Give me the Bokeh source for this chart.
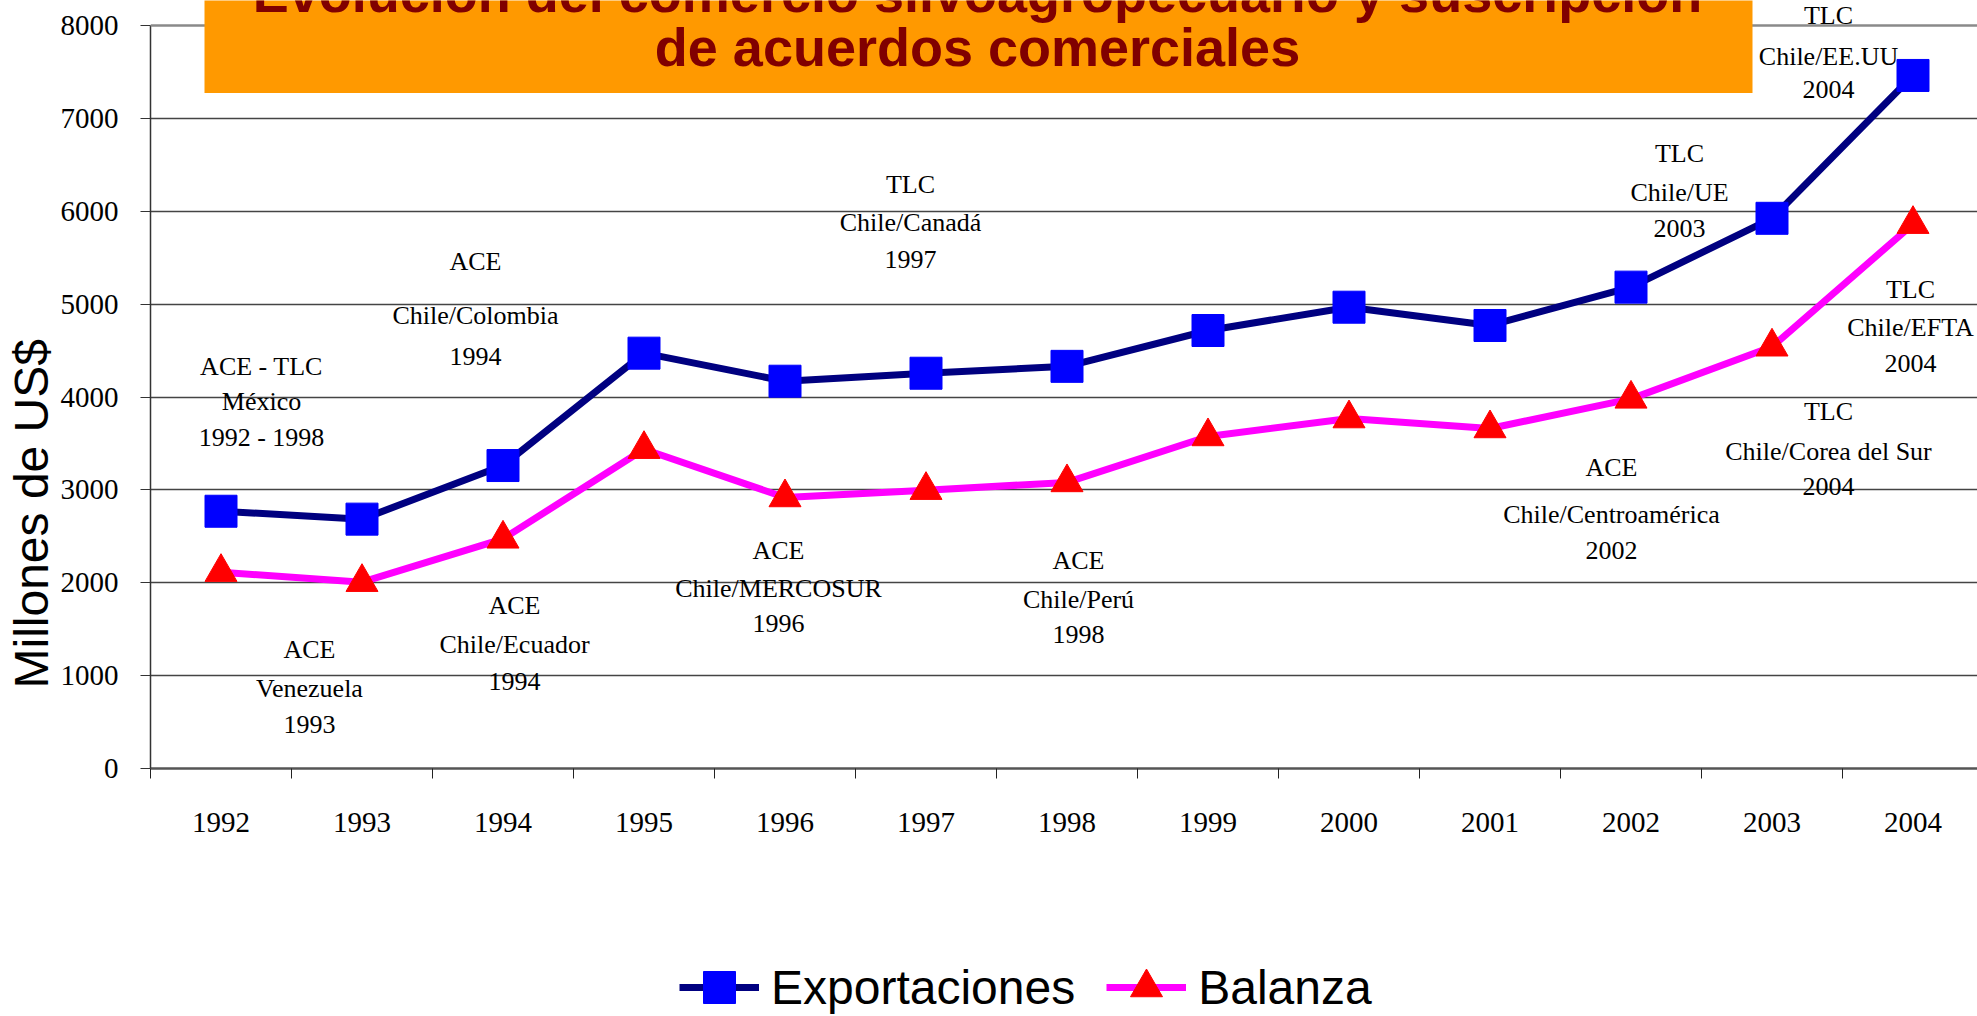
from bokeh.plotting import figure
from bokeh.layouts import column
from bokeh.models import (Range1d, FixedTicker, Label, Legend, LegendItem, Span,
                          BoxAnnotation, ColumnDataSource, Title)
from bokeh.core.properties import value
from bokeh.embed import file_html
from bokeh.resources import INLINE

# ---------------- data ----------------
years = ["1992", "1993", "1994", "1995", "1996", "1997", "1998",
         "1999", "2000", "2001", "2002", "2003", "2004"]
exportaciones = [2770, 2685, 3262, 4472, 4170, 4256, 4330, 4716, 4967, 4770, 5183, 5924, 7462]
balanza = [2114, 2006, 2473, 3438, 2918, 2997, 3080, 3575, 3768, 3661, 3980, 4541, 5861]
y_ticks = [0, 1000, 2000, 3000, 4000, 5000, 6000, 7000, 8000]
series_names = ["Exportaciones", "Balanza"]
title_lines = ["Evolución del comercio silvoagropecuario y suscripción",
               "de acuerdos comerciales"]
y_label = "Millones de US$"
agreements = [
    ("ACE - TLC", "México", "1992 - 1998"),
    ("ACE", "Chile/Colombia", "1994"),
    ("TLC", "Chile/Canadá", "1997"),
    ("TLC", "Chile/UE", "2003"),
    ("TLC", "Chile/EE.UU", "2004"),
    ("TLC", "Chile/EFTA", "2004"),
    ("TLC", "Chile/Corea del Sur", "2004"),
    ("ACE", "Chile/Centroamérica", "2002"),
    ("ACE", "Chile/MERCOSUR", "1996"),
    ("ACE", "Chile/Perú", "1998"),
    ("ACE", "Chile/Ecuador", "1994"),
    ("ACE", "Venezuela", "1993"),
]

# ---------------- layout (pixels) ----------------
W, H = 1977, 1016
H_MAIN = 848
FL, FB = 150, 768          # frame left / bottom (value 0)
Y_TOP_PX = 25              # pixel row of the 8000 gridline
CAT_W = 141                # pixel width of one year
ann_px = [
    (261, (366, 401, 437)),
    (475, (261, 315, 356)),
    (910, (184, 222, 259)),
    (1679, (153, 192, 228)),
    (1828, (15, 56, 89)),
    (1910, (289, 327, 363)),
    (1828, (411, 451, 486)),
    (1611, (467, 514, 550)),
    (778, (550, 588, 623)),
    (1078, (560, 599, 634)),
    (514, (605, 644, 681)),
    (309, (649, 688, 724)),
]

ymax = y_ticks[-1]
px_per_unit = (FB - Y_TOP_PX) / ymax


def dx(px):
    return -0.5 + (px - FL) / CAT_W


def dy(py):
    return (FB - py) / px_per_unit


p = figure(width=W, height=H_MAIN,
           x_range=Range1d(-0.5, dx(W)), y_range=Range1d(0, dy(0)),
           output_backend="svg", toolbar_location=None,
           min_border_left=FL, min_border_right=0, min_border_top=0,
           min_border_bottom=H_MAIN - FB, outline_line_color=None,
           background_fill_color="white", border_fill_color="white")

# x axis
xs = list(range(len(years)))
p.xaxis.ticker = FixedTicker(ticks=xs, minor_ticks=[i - 0.5 for i in range(len(years) + 1)])
p.xaxis.major_label_overrides = {i: y for i, y in zip(xs, years)}
p.xaxis.major_tick_out = 0
p.xaxis.major_tick_in = 0
p.xaxis.minor_tick_out = 10
p.xaxis.minor_tick_in = 0
p.xaxis.minor_tick_line_color = "#222222"
p.xaxis.axis_line_color = "#555555"
p.xaxis.axis_line_width = 2.5
p.xaxis.major_label_standoff = 34
p.xaxis.major_label_text_font = "Liberation Serif"
p.xaxis.major_label_text_font_size = "29px"
p.xaxis.major_label_text_color = "black"

# y axis
p.yaxis.ticker = FixedTicker(ticks=y_ticks)
p.yaxis.bounds = (0, ymax)
p.yaxis.major_tick_out = 10
p.yaxis.major_tick_in = 0
p.yaxis.minor_tick_out = 0
p.yaxis.minor_tick_in = 0
p.yaxis.major_tick_line_color = "#333333"
p.yaxis.axis_line_color = "#333333"
p.yaxis.axis_line_width = 1.5
p.yaxis.major_label_standoff = 22
p.yaxis.major_label_text_font = "Liberation Serif"
p.yaxis.major_label_text_font_size = "29px"
p.yaxis.major_label_text_color = "black"

p.xgrid.visible = False
p.ygrid.ticker = FixedTicker(ticks=y_ticks[1:-1])
p.ygrid.grid_line_color = "#444444"
p.ygrid.grid_line_width = 1.3

p.add_layout(Span(location=ymax, dimension="width", line_color="#8a8a8a", line_width=2.5))

# series
src = ColumnDataSource(dict(x=xs, exp=exportaciones, bal=balanza))
cols = ["exp", "bal"]
line_styles = [dict(line_color="#000080", line_width=7), dict(line_color="#FF00FF", line_width=7)]
marker_styles = [dict(marker="square", size=32, fill_color="#0000FF", line_color="#0000FF"),
                 dict(marker="triangle", size=32, fill_color="#FF0000", line_color="#FF0000")]
for col, ls, ms in zip(cols, line_styles, marker_styles):
    p.line("x", col, source=src, **ls)
    p.scatter("x", col, source=src, **ms)

# agreement annotations
ax, ay, at = [], [], []
for lines, (px, pys) in zip(agreements, ann_px):
    for t, py in zip(lines, pys):
        ax.append(dx(px))
        ay.append(dy(py))
        at.append(t)
p.text(x="x", y="y", text="text", source=ColumnDataSource(dict(x=ax, y=ay, text=at)),
       text_font=value("Liberation Serif"), text_font_size="26px",
       text_align="center", text_baseline="middle", text_color="black")

# title box
p.add_layout(BoxAnnotation(left=dx(204), right=dx(1752), top=dy(-10), bottom=dy(92.5),
                           fill_color="#FF9900", fill_alpha=1.0, line_color=None))
for t, base in zip(title_lines, (-8, 46)):
    p.add_layout(Label(x=dx(977), y=dy(base), text=t, text_align="center",
                       text_baseline="alphabetic", text_font="Liberation Sans",
                       text_font_style="bold", text_font_size="54px",
                       text_color="#800000"))

# y label (as a side title so it is outside the frame)
p.add_layout(Title(text=y_label, align="left", offset=FB - 688, standoff=0,
                   text_font="Liberation Sans", text_font_style="normal",
                   text_font_size="48px", text_color="black"), "left")

# ---------------- legend strip ----------------
LH = H - H_MAIN
q = figure(width=W, height=LH, x_range=Range1d(-1000, -999), y_range=Range1d(-1000, -999),
           output_backend="svg", toolbar_location=None,
           min_border_left=FL, min_border_right=0, min_border_top=0, min_border_bottom=0,
           x_axis_location=None, y_axis_location=None, outline_line_color=None,
           background_fill_color="white", border_fill_color="white")
q.grid.visible = False
items = []
for name, col, ls, ms in zip(series_names, cols, line_styles, marker_styles):
    rl = q.line("x", col, source=src, **ls)
    rm = q.scatter("x", col, source=src, **ms)
    items.append(LegendItem(label=name, renderers=[rl, rm]))
GLYPH = 80
legend_top = 947 - H_MAIN
legend = Legend(items=items, location=(679 - FL, LH - legend_top - GLYPH), orientation="horizontal",
                glyph_width=GLYPH, glyph_height=GLYPH, label_standoff=12, spacing=31,
                padding=0, margin=0, border_line_color=None,
                background_fill_alpha=0, label_text_font="Liberation Sans",
                label_text_font_size="48px", label_text_color="black")
q.add_layout(legend)

open("out.html", "w").write(file_html(column(p, q, spacing=0), INLINE))
